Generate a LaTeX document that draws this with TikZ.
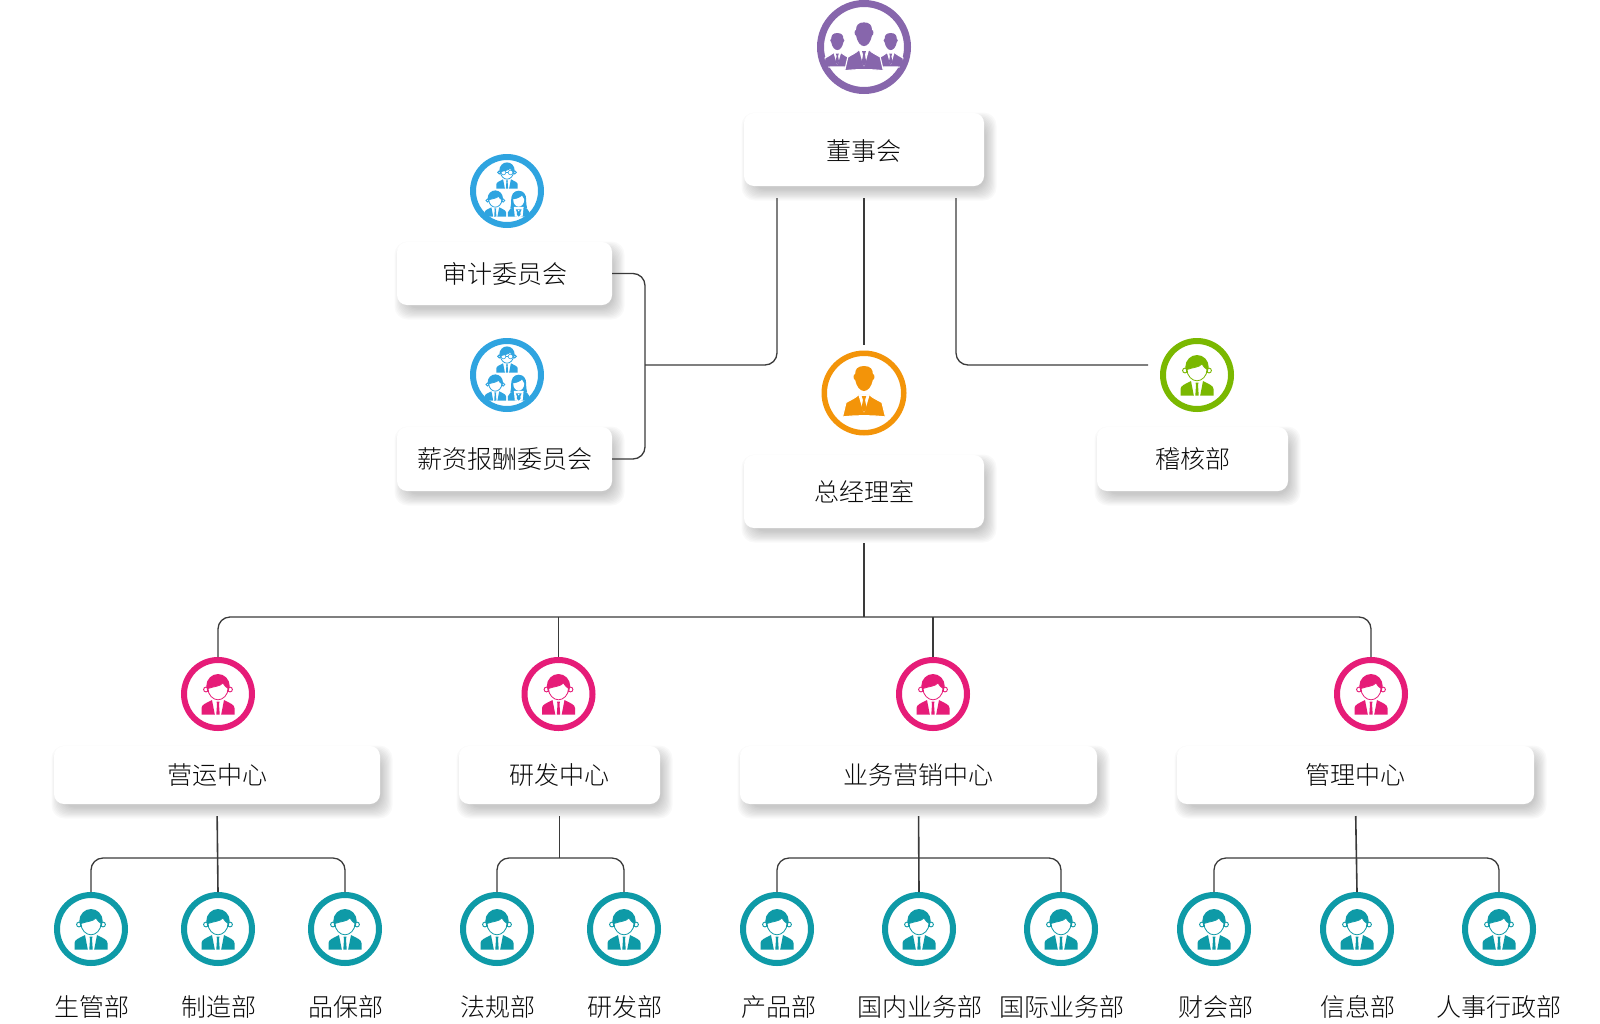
\documentclass[tikz,border=0pt]{standalone}
\usepackage{fontspec}
\setmainfont{Noto Sans CJK SC Light}
\usetikzlibrary{calc}
\definecolor{cPurple}{HTML}{8766AC}
\definecolor{cBlue}{HTML}{2FA4E0}
\definecolor{cOrange}{HTML}{F39409}
\definecolor{cGreen}{HTML}{7AB800}
\definecolor{cPink}{HTML}{E61C78}
\definecolor{cTeal}{HTML}{0E9AA7}
\definecolor{cLine}{HTML}{3A3A3A}
\definecolor{cText}{HTML}{0A0A0A}
\tikzset{
  boxnode/.style={fill=white,rounded corners=10pt,inner sep=0pt,outer sep=0pt,text=cText,font=\fontsize{25pt}{27pt}\selectfont},
  lab/.style={inner sep=0pt,text=cText,font=\fontsize{25pt}{27pt}\selectfont},
  conn/.style={draw=cLine,line width=1.3pt,rounded corners=12pt},
  trunk/.style={draw=cLine,line width=1.6pt},
  ringsmall/.style={circle,draw=#1,line width=6pt,minimum size=68pt,inner sep=0pt,fill=white},
  ringmid/.style={circle,draw=#1,line width=5.5pt,minimum size=79.5pt,inner sep=0pt,fill=white},
  ringbig/.style={circle,draw=#1,line width=7pt,minimum size=87pt,inner sep=0pt,fill=white},
  manhair/.pic={
    \filldraw[fill=white,draw=#1,line width=.9pt] (-12,-4.5) circle[radius=2.4];
    \filldraw[fill=white,draw=#1,line width=.9pt] (12,-4.5) circle[radius=2.4];
    \fill[#1] (0,-8) ellipse[x radius=11.7,y radius=12];
    \filldraw[fill=white,draw=#1,line width=.8pt] (-10,-5.5) .. controls (-5,-7.5) and (2,-7.5) .. (5,-11) .. controls (6,-8.8) and (8,-7) .. (10,-5.5)
       .. controls (10,1) and (5,5.8) .. (0,5.8) .. controls (-5,5.8) and (-10,1) .. (-10,-5.5) -- cycle;
    \fill[#1] (-16.5,20.5) -- (-16.5,14) .. controls (-16.5,10.5) and (-11.5,9) .. (-6,6) -- (-3.2,20.5) -- cycle;
    \fill[#1] (16.5,20.5) -- (16.5,14) .. controls (16.5,10.5) and (11.5,9) .. (6,6) -- (3.2,20.5) -- cycle;
    \fill[#1] (-1.5,7.5) -- (1.5,7.5) -- (1,10) -- (1.7,20.5) -- (-1.7,20.5) -- (-1,10) -- cycle;
  },
  woman/.pic={
    \fill[#1] (0,-19.5) .. controls (8,-19.5) and (11.5,-13) .. (11.5,-6) .. controls (11.5,0) and (12,4) .. (13,8)
       -- (-13,8) .. controls (-12,4) and (-11.5,0) .. (-11.5,-6) .. controls (-11.5,-13) and (-8,-19.5) .. (0,-19.5) -- cycle;
    \fill[white] (-8.5,-6) .. controls (-3,-7) and (3,-9) .. (5,-12) .. controls (6,-9) and (7,-7.5) .. (8.5,-6)
       .. controls (8.5,1) and (4,5) .. (0,5) .. controls (-4,5) and (-8.5,1) .. (-8.5,-6) -- cycle;
    \fill[#1] (-16.5,20.5) -- (-16.5,13.5) .. controls (-16.5,10) and (-12,8) .. (-7,6) -- (-3,20.5) -- cycle;
    \fill[#1] (16.5,20.5) -- (16.5,13.5) .. controls (16.5,10) and (12,8) .. (7,6) -- (3,20.5) -- cycle;
    \fill[white] (-7.5,5.5) -- (7.5,5.5) -- (6,20.5) -- (-6,20.5) -- cycle;
    \fill[#1] (-4.5,9) -- (4.5,9) -- (2.5,14) -- (3,17) -- (0,20.5) -- (-3,17) -- (-2.5,14) -- cycle;
    \fill[white] (-1.5,10) -- (1.5,10) -- (0,12.5) -- cycle;
  },
  execman/.pic={
    \fill[#1] (0,-27) .. controls (6.5,-27) and (9,-23.5) .. (8.8,-19) .. controls (11,-19) and (11,-13.5) .. (8.8,-13)
       .. controls (7.5,-6.5) and (4,-2) .. (0,-2) .. controls (-4,-2) and (-7.5,-6.5) .. (-8.8,-13)
       .. controls (-11,-13.5) and (-11,-19) .. (-8.8,-19) .. controls (-9,-23.5) and (-6.5,-27) .. (0,-27) -- cycle;
    \filldraw[fill=#1,draw=white,line width=1.1pt] (-21.5,24) -- (-18,9.5) .. controls (-14,7) and (-9.5,5.5) .. (-5.5,1.8)
       -- (5.5,1.8) .. controls (9.5,5.5) and (14,7) .. (18,9.5) -- (21.5,24) .. controls (10,22.3) and (-10,22.3) .. (-21.5,24) -- cycle;
    \fill[white] (-5.6,2) -- (5.6,2) -- (0.6,19) -- (-0.6,19) -- cycle;
    \fill[#1] (-2.2,3.2) -- (2.2,3.2) -- (1,7) -- (2.6,15) -- (0,19.5) -- (-2.6,15) -- (-1,7) -- cycle;
  },
}
\newcommand{\shbox}[6]{%
  \foreach \k in {0,...,9}{%
    \pgfmathsetmacro{\gr}{7.5-\k*1.2}%
    \fill[black,opacity=.022,rounded corners=13pt] ({#2+5-\gr},{#3+7-\gr}) rectangle ({#4+5+\gr},{#5+7+\gr});
  }%
  \node[boxnode,minimum width={#4-#2},minimum height={#5-#3}] (#1) at ({(#2+#4)/2},{(#3+#5)/2}) {#6};
}
\begin{document}
\begin{tikzpicture}[x=1pt,y=-1pt]
\useasboundingbox (0,0) rectangle (1600,1023);
% boxes
\shbox{board}{744}{113}{984}{186}{\raisebox{-2pt}[\height][\depth]{董事会}}
\shbox{audit}{397}{242}{612}{305}{审计委员会}
\shbox{salary}{397}{427}{612}{491}{薪资报酬委员会}
\shbox{gm}{744}{455}{984}{528}{总经理室}
\shbox{check}{1097}{427}{1288}{491}{稽核部}
\shbox{ops}{54}{746}{380}{804}{营运中心}
\shbox{rd}{459}{746}{660}{804}{研发中心}
\shbox{biz}{740}{746}{1097}{804}{业务营销中心}
\shbox{mgt}{1177}{746}{1534}{804}{管理中心}
% icons
\node[ringbig=cPurple] (iboard) at (864,47) {};
\begin{scope}
  \clip (864,47) circle[radius=41];
  \pic[scale=.68] at (837.3,51.4) {execman=cPurple};
  \pic[scale=.68] at (890.7,51.4) {execman=cPurple};
\end{scope}
\pic[xscale=.9,yscale=.95] at (864,48) {execman=cPurple};
\node[ringsmall=cBlue] (iaudit) at (507,191) {};
\pic[scale=.65] at (507,175.4) {manhair=cBlue};
\draw[cBlue,line width=.6pt] (503.5,172.5) circle[radius=2.3] (510.5,172.5) circle[radius=2.3] (505.8,172.5) -- (508.2,172.5);
\pic[scale=.65] at (495.3,203.4) {manhair=cBlue};
\pic[scale=.65] at (518.7,203.4) {woman=cBlue};
\node[ringsmall=cBlue] (isalary) at (507,375) {};
\pic[scale=.65] at (507,359.4) {manhair=cBlue};
\draw[cBlue,line width=.6pt] (503.5,356.5) circle[radius=2.3] (510.5,356.5) circle[radius=2.3] (505.8,356.5) -- (508.2,356.5);
\pic[scale=.65] at (495.3,387.4) {manhair=cBlue};
\pic[scale=.65] at (518.7,387.4) {woman=cBlue};
\node[ringmid=cOrange] (igm) at (864,393) {};
\pic at (864,393) {execman=cOrange};
\node[ringsmall=cGreen] (icheck) at (1197,375) {};
\pic at (1197,375) {manhair=cGreen};
\foreach \n/\x in {p1/218,p2/558.5,p3/933,p4/1371}{
  \node[ringsmall=cPink] (\n) at (\x,694) {};
  \pic at (\x,694) {manhair=cPink};
}
\foreach \n/\x in {t1/91,t2/218,t3/345,t4/497,t5/624,t6/777,t7/919,t8/1061,t9/1214,t10/1357,t11/1499}{
  \node[ringsmall=cTeal] (\n) at (\x,929) {};
  \pic at (\x,929) {manhair=cTeal};
}
% labels
\foreach \n/\x/\t in {l1/91.5/生管部,l2/218.5/制造部,l3/345.5/品保部,l4/497.5/法规部,l5/625/研发部,l6/778.5/产品部,l7/919.5/国内业务部,l8/1062/国际业务部,l9/1215.5/财会部,l10/1357.5/信息部,l11/1498.5/人事行政部}{
  \node[lab] (\n) at (\x,1007) {\t};
}
% connectors
\coordinate (junc) at (645,365);
\coordinate (boardL) at (777,198);
\coordinate (boardR) at (956,198);
\coordinate (checkIn) at (1148,365);
\draw[conn] (audit.east) -- (audit.east -| junc) -- (salary.east -| junc) -- (salary.east);
\draw[conn] (junc) -- (junc -| boardL) -- (boardL);
\draw[conn] (boardR) -- (boardR |- checkIn) -- (checkIn);
\draw[conn,shorten <=12pt,shorten >=6pt] (board.south) -- (igm.north);
\coordinate (bar) at (864,617);
\draw[conn] (p1.north) -- (p1.north |- bar) -- (p4.north |- bar) -- (p4.north);
\draw[conn] (p2.north) -- (p2.north |- bar);
\draw[conn] (p3.north) -- (p3.north |- bar);
\draw[conn,shorten <=15pt] (gm.south) -- (bar);
\coordinate (sub) at (0,858);
\draw[conn] (t1.north) -- (t1.north |- sub) -- (t3.north |- sub) -- (t3.north);
\draw[trunk,shorten <=12pt] (ops.south) -- (t2.north);
\draw[conn] (t4.north) -- (t4.north |- sub) -- (t5.north |- sub) -- (t5.north);
\draw[conn,shorten <=12pt] (rd.south) -- (rd.south |- sub);
\draw[conn] (t6.north) -- (t6.north |- sub) -- (t8.north |- sub) -- (t8.north);
\draw[trunk,shorten <=12pt] (biz.south) -- (t7.north);
\draw[conn] (t9.north) -- (t9.north |- sub) -- (t11.north |- sub) -- (t11.north);
\draw[trunk,shorten <=12pt] (mgt.south) -- (t10.north);
\end{tikzpicture}
\end{document}
